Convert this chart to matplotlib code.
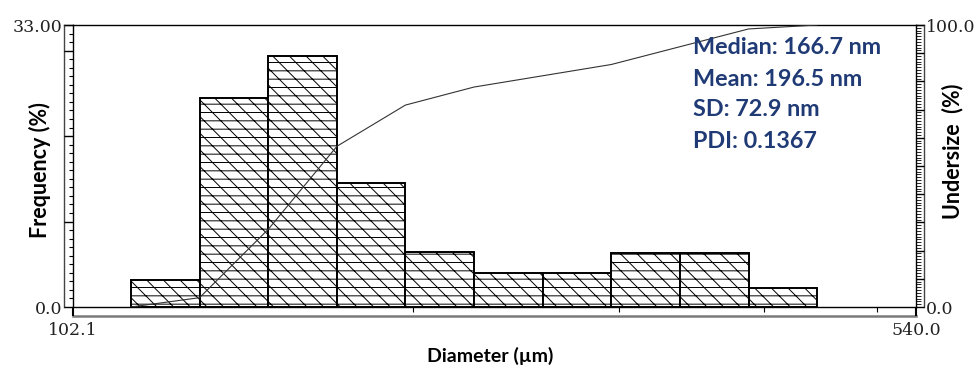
import numpy as np
import matplotlib
matplotlib.use('Agg')
from matplotlib import pyplot as plt
from matplotlib.ticker import FixedLocator, FixedFormatter, MultipleLocator, NullFormatter

# particle size distribution, log-spaced bins (nm)
binEdges = [114.5, 131.1, 150.2, 172.0, 196.9, 225.5, 258.3, 295.8, 338.7, 387.9, 444.2]
frequency = [3.2, 24.4, 29.4, 14.5, 6.4, 4.0, 4.0, 6.3, 6.3, 2.2]
undersize = [0.0, 3.3, 27.6, 57.0, 71.6, 78.0, 82.0, 86.0, 92.3, 98.6, 100.0]

xRange = [102.1, 540.0]
xMinorTicks = [200, 300, 400, 500]
xTickLabels = ['102.1', '540.0']
freqRange = [0.0, 33.0]
freqTicks = [0, 10, 20, 30, 33]
freqTickLabels = ['0.0', '', '', '', '33.00']
underTicks = [0, 10, 20, 30, 40, 50, 60, 70, 80, 90, 100]
underTickLabels = ['0.0'] + [''] * 9 + ['100.0']

stats = ['Median: 166.7 nm', 'Mean: 196.5 nm', 'SD: 72.9 nm', 'PDI: 0.1367']

W, H = 980, 372
LABEL_FONT = 'Lato'
TICK_FONT = 'DejaVu Serif'


def rect(x0, y0, x1, y1):
    # pixel box (top-left origin) -> figure fraction
    return [x0 / W, 1 - y1 / H, (x1 - x0) / W, (y1 - y0) / H]


def strip(fig, box, sides, color='#444444', lw=1.0):
    a = fig.add_axes(rect(*box), zorder=0)
    a.patch.set_alpha(0)
    a.set_xticks([])
    a.set_yticks([])
    for name, sp in a.spines.items():
        sp.set_visible(name in sides)
        sp.set_color(color)
        sp.set_linewidth(lw)
    return a


def plot_distribution():
    fig = plt.figure(figsize=(W / 100, H / 100), dpi=100)
    plt.rcParams['hatch.linewidth'] = 0.7

    # axis strips around the plot frame
    strip(fig, (64, 25, 73, 307), ['left', 'top'])
    strip(fig, (916, 25, 924, 307), ['right', 'top'])
    strip(fig, (73, 307, 916, 316), ['bottom'], color='#7a7a7a', lw=1.8)

    ax = fig.add_axes(rect(73, 25, 916, 307), zorder=1)
    ax.set_xscale('log')
    ax.set_xlim(xRange)
    ax.set_ylim(freqRange)

    widths = np.diff(binEdges)
    ax.bar(binEdges[:-1], frequency, width=widths, align='edge',
           color='white', edgecolor='black', linewidth=1.4,
           hatch='--\\\\', zorder=2)

    for sp in ax.spines.values():
        sp.set_color('black')
        sp.set_linewidth(1.0)

    ax.xaxis.set_major_locator(FixedLocator(xRange))
    ax.xaxis.set_major_formatter(FixedFormatter(xTickLabels))
    ax.xaxis.set_minor_locator(FixedLocator(xMinorTicks))
    ax.xaxis.set_minor_formatter(NullFormatter())
    ax.tick_params(axis='x', which='major', direction='out', length=6.5, width=1.5, pad=4)
    ax.tick_params(axis='x', which='minor', direction='out', length=3.6, width=0.8)

    ax.yaxis.set_major_locator(FixedLocator(freqTicks))
    ax.yaxis.set_major_formatter(FixedFormatter(freqTickLabels))
    ax.yaxis.set_minor_locator(MultipleLocator(1))
    ax.tick_params(axis='y', which='major', direction='out', length=6.5, width=1.0, pad=1)
    ax.tick_params(axis='y', which='minor', direction='out', length=3.2, width=0.8)

    ax2 = ax.twinx()
    ax2.set_ylim(0, 100)
    ax2.plot(binEdges, undersize, color='#333333', linewidth=0.8, zorder=3)
    for sp in ax2.spines.values():
        sp.set_visible(False)
    ax2.yaxis.set_major_locator(FixedLocator(underTicks))
    ax2.yaxis.set_major_formatter(FixedFormatter(underTickLabels))
    ax2.yaxis.set_minor_locator(MultipleLocator(1))
    ax2.tick_params(axis='y', which='major', direction='out', length=5.8, width=1.0, pad=1.5)
    ax2.tick_params(axis='y', which='minor', direction='out', length=3.5, width=0.6)

    for a in (ax, ax2):
        for lab in a.get_xticklabels() + a.get_yticklabels():
            lab.set_fontfamily(TICK_FONT)
            lab.set_fontsize(12.5)
            lab.set_color('#222222')

    # summary statistics
    for i, s in enumerate(stats):
        fig.text(693 / W, 1 - (48 + 31 * i) / H, s, ha='left', va='center',
                 fontfamily=LABEL_FONT, fontweight='bold', fontsize=16.8, color='#1f3a75')

    fig.text(40 / W, 1 - 170 / H, 'Frequency (%)', rotation=90, ha='center', va='center',
             fontfamily=LABEL_FONT, fontweight='bold', fontsize=15.5)
    fig.text(953 / W, 1 - 151 / H, 'Undersize  (%)', rotation=90, ha='center', va='center',
             fontfamily=LABEL_FONT, fontweight='bold', fontsize=15.5)
    fig.text(490 / W, 1 - 356 / H, 'Diameter (µm)', ha='center', va='center',
             fontfamily=LABEL_FONT, fontweight='bold', fontsize=14)

    fig.savefig('out.png', dpi=100)


def main():
    plot_distribution()


if __name__ == "__main__":
    main()
